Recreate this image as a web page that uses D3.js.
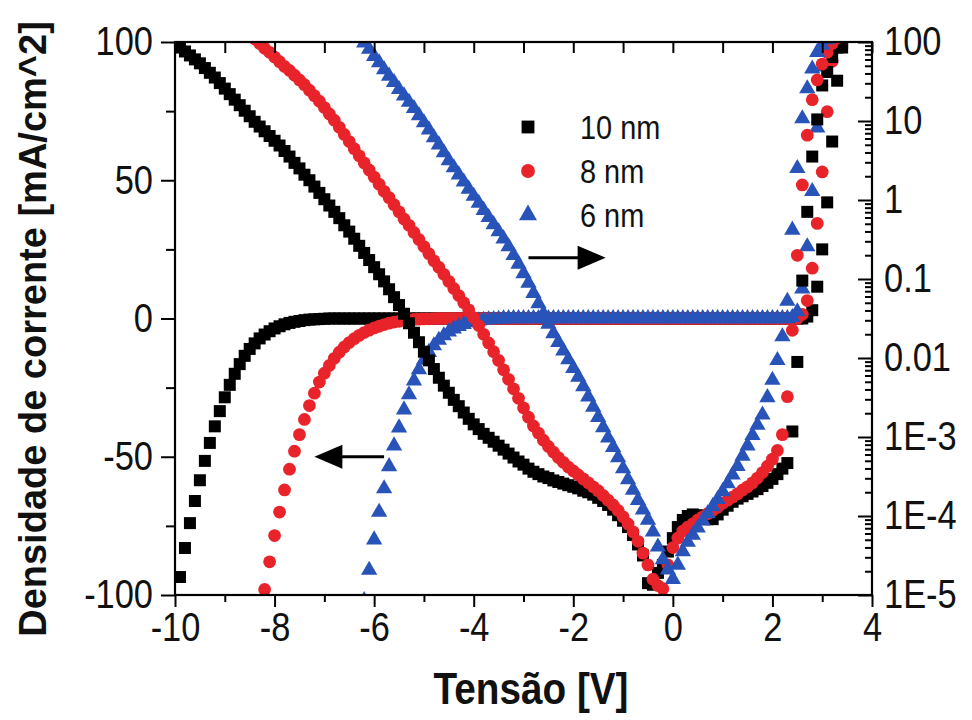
<!DOCTYPE html>
<html><head><meta charset="utf-8">
<script src="https://cdn.jsdelivr.net/npm/d3@7"></script>
<style>body{margin:0;background:#fff}</style>
</head><body>
<svg id="c" width="972" height="720"></svg>
<script>
// ---------------- DATA ----------------
const seriesNames = ["10 nm", "8 nm", "6 nm"];
const voltageStep = 0.1; // sweep step [V]

// Linear J-V (left axis, mA/cm^2), values at successive 0.1 V steps from the start voltage
const lin10Start = -9.9;
const lin10 = [-93.5,-83,-74,-66,-58.5,-51.5,-45,-39,-33.5,-28.5,
  -24,-20,-16.5,-13.5,-11,-9,-7.2,-5.8,-4.6,-3.6,
  -2.8,-2.1,-1.6,-1.2,-0.9,-0.6,-0.4,-0.3,-0.2,-0.1,
  0,0,0,0,0,0,0,0,0,0, 0,0,0,0,0,0,0,0,0,0, 0,0,0,0,0,0,0,0,0,0,
  0,0,0,0,0,0,0,0,0,0, 0,0,0,0,0,0,0,0,0,0, 0,0,0,0,0,0,0,0,0,0,
  0,0,0,0,0,0,0,0,0,0, 0,0,0,0,0,0,0,0,0,0, 0,0,0,0,0,0,0,0,0,0,
  0,0,0,0,0,0,
  0.7,3,11.5,25,42,64,86,98];

const lin8Start = -8.2;
const lin8 = [-98,-88,-78.5,-70,-62,-54.5,-48,-42,-36.5,-31.5,
  -27,-23,-19.8,-17,-14.4,-12.2,-10.3,-8.7,-7.3,-6.1,
  -5.1,-4.2,-3.4,-2.8,-2.2,-1.7,-1.3,-1.0,-0.7,-0.5,
  -0.35,-0.25,-0.15,-0.1,-0.05,
  0,0,0,0,0,0,0,0,0,0, 0,0,0,0,0,0,0,0,0,0, 0,0,0,0,0,0,0,0,0,0,
  0,0,0,0,0,0,0,0,0,0, 0,0,0,0,0,0,0,0,0,0, 0,0,0,0,0,0,0,0,0,0,
  0,0,0,0,0,0,0,0,0,0, 0,0,0,
  1.5,6.5,18.2,34.4,53,74.8,93,100];

const lin6Start = -6.2;
const lin6 = [-102,-91,-80,-70,-61.5,-53.5,-46,-39.5,-33,-27.5,
  -22.5,-18.5,-15,-12.2,-9.8,-7.8,-6.2,-4.8,-3.7,-2.8,
  -2.1,-1.5,-1.1,-0.8,-0.6,-0.4,-0.3,-0.2,-0.1,
  0,0,0,0,0,0,0,0,0,0, 0,0,0,0,0,0,0,0,0,0, 0,0,0,0,0,0,0,0,0,0,
  0,0,0,0,0,0,0,0,0,0, 0,0,0,0,0,0,0,0,0,0, 0,0,0,0,0,0,0,
  0.4,2.5,10.7,26,46,69,91];

// |J| on the log axis (right), stored as log10(|J| / mA cm^-2), 0.1 V steps
const log10Start = -10.0;
const logJ10 = [1.98,1.93,1.88,1.83,1.78,1.73,1.67,1.61,1.55,1.48,
  1.41,1.34,1.27,1.20,1.13,1.06,0.99,0.93,0.87,0.81,
  0.75,0.69,0.62,0.55,0.47,0.40,0.32,0.25,0.17,0.09,
  0.01,-0.07,-0.15,-0.23,-0.32,-0.40,-0.49,-0.58,-0.67,-0.76,
  -0.85,-0.94,-1.03,-1.13,-1.23,-1.33,-1.44,-1.56,-1.68,-1.80,
  -1.92,-2.03,-2.14,-2.25,-2.35,-2.44,-2.53,-2.61,-2.69,-2.77,
  -2.84,-2.90,-2.96,-3.01,-3.06,-3.11,-3.16,-3.21,-3.26,-3.31,
  -3.35,-3.40,-3.44,-3.47,-3.50,-3.52,-3.55,-3.57,-3.59,-3.61,
  -3.63,-3.65,-3.68,-3.70,-3.73,-3.77,-3.81,-3.86,-3.92,-3.99,
  -4.06,-4.14,-4.24,-4.36,-4.50,-4.85,-4.87,-4.72,-4.62,-4.45,
  -4.28,-4.14,-4.05,-4.00,-3.98,-3.99,-4.02,-4.04,-4.04,-3.98,
  -3.92,-3.87,-3.82,-3.78,-3.75,-3.72,-3.69,-3.66,-3.62,-3.58,
  -3.53,-3.47,-3.40,-3.33,-2.93,-2.05,-1.02,-0.15,0.55,1.02,
  1.45,1.62,1.81,1.93,1.99];

const log8Start = -8.4;
const logJ8 = [2.04,1.98,1.92,1.87,1.81,1.75,1.69,1.64,1.58,1.52,
  1.46,1.39,1.32,1.25,1.17,1.09,1.01,0.92,0.83,0.74,
  0.65,0.56,0.47,0.38,0.29,0.20,0.11,0.03,-0.06,-0.15,
  -0.24,-0.32,-0.41,-0.50,-0.59,-0.68,-0.77,-0.85,-0.94,-1.03,
  -1.12,-1.21,-1.30,-1.39,-1.49,-1.59,-1.70,-1.81,-1.92,-2.03,
  -2.15,-2.27,-2.39,-2.51,-2.63,-2.75,-2.86,-2.95,-3.04,-3.12,
  -3.19,-3.26,-3.32,-3.38,-3.43,-3.48,-3.53,-3.58,-3.63,-3.68,
  -3.74,-3.80,-3.86,-3.93,-4.01,-4.10,-4.20,-4.32,-4.47,-4.62,
  -4.80,-4.88,-4.92,-4.62,-4.40,-4.28,-4.19,-4.14,-4.10,-4.05,
  -4.01,-3.97,-3.93,-3.89,-3.84,-3.80,-3.76,-3.72,-3.67,-3.63,
  -3.58,-3.52,-3.45,-3.37,-3.28,-3.17,-2.97,-2.49,-1.65,-0.70,
  0.19,0.82,1.27,1.52,1.72,1.87,1.98,2.05];

const log6Start = -6.3;
const logJ6 = [2.08,1.99,1.91,1.82,1.74,1.65,1.57,1.49,1.40,1.32,
  1.24,1.16,1.07,0.98,0.89,0.79,0.70,0.60,0.50,0.41,
  0.32,0.23,0.14,0.05,-0.04,-0.13,-0.22,-0.31,-0.40,-0.49,
  -0.59,-0.70,-0.81,-0.93,-1.05,-1.18,-1.31,-1.44,-1.57,-1.69,
  -1.80,-1.91,-2.02,-2.13,-2.24,-2.36,-2.49,-2.62,-2.75,-2.88,
  -3.01,-3.13,-3.26,-3.40,-3.54,-3.67,-3.80,-3.92,-4.05,-4.20,
  -4.39,-4.55,-4.68,-4.80,-4.62,-4.45,-4.33,-4.24,-4.15,-4.06,
  -3.97,-3.88,-3.79,-3.69,-3.59,-3.48,-3.37,-3.24,-3.11,-2.98,
  -2.85,-2.72,-2.50,-2.28,-2.03,-1.73,-1.28,-0.38,0.40,1.03,
  1.41,1.66,1.87,1.96,2.03];

// Axis ticks
const xTicks = [-10,-8,-6,-4,-2,0,2,4];
const xMinorTicks = [-9,-7,-5,-3,-1,1,3];
const yLeftTicks = [-100,-50,0,50,100];
const yLeftMinor = [-75,-25,25,75];
const yRightTicks = [1e-5,1e-4,1e-3,0.01,0.1,1,10,100];
const yRightLabels = ["1E-5","1E-4","1E-3","0.01","0.1","1","10","100"];

const xTitle = "Tensão [V]";
const yTitle = "Densidade de corrente [mA/cm^2]";

// ---------------- STYLE ----------------
const colors = ["#000000", "#e8232a", "#2853b8"];
const FONT = "'Liberation Sans', Arial, sans-serif";

const svg = d3.select("#c");
const L = 175, R = 872, T = 42, B = 595;

const x = d3.scaleLinear().domain([-10, 4]).range([L, R]);
const yL = d3.scaleLinear().domain([-100, 100]).range([B, T]);
const yR = d3.scaleLog().domain([1e-5, 100]).range([B, T]);

function toPoints(start, vals, isLog) {
  const s = Math.round(start / voltageStep);
  return vals.map((v, i) => ({ v: (s + i) * voltageStep, j: isLog ? Math.pow(10, v) : v }));
}

const symbols = [d3.symbolSquare, d3.symbolCircle, d3.symbolTriangle];
const symSizes = [144, 128, 115];

svg.append("defs").append("clipPath").attr("id", "plot")
  .append("rect").attr("x", L).attr("y", T).attr("width", R - L).attr("height", B - T);

const gData = svg.append("g").attr("clip-path", "url(#plot)");

const linSets = [[lin10Start, lin10], [lin8Start, lin8], [lin6Start, lin6]];
const logSets = [[log10Start, logJ10], [log8Start, logJ8], [log6Start, logJ6]];

function drawSeries(pts, k, yScale) {
  gData.append("g").selectAll("path").data(pts).join("path")
    .attr("transform", d => `translate(${x(d.v)},${yScale(d.j)})`)
    .attr("d", d3.symbol().type(symbols[k]).size(symSizes[k]))
    .attr("fill", colors[k]);
}
linSets.forEach(([s, v], k) => drawSeries(toPoints(s, v, false), k, yL));
logSets.forEach(([s, v], k) => drawSeries(toPoints(s, v, true), k, yR));

// ---------------- AXES ----------------
const fmt = d => String(d);
function styleAxis(g) {
  g.select(".domain").remove();
  g.selectAll("line").attr("stroke", "#000").attr("stroke-width", 2);
  g.selectAll("text").attr("font-family", FONT).attr("font-size", 40).attr("fill", "#111")
    .attr("class", "tk");
}
// bottom
svg.append("g").attr("transform", `translate(0,${B})`)
  .call(d3.axisBottom(x).tickValues(xTicks).tickFormat(fmt).tickSize(12).tickPadding(6))
  .call(styleAxis);
svg.append("g").attr("transform", `translate(0,${B})`)
  .call(d3.axisBottom(x).tickValues(xMinorTicks).tickFormat("").tickSize(7))
  .call(styleAxis);
// top (inward)
svg.append("g").attr("transform", `translate(0,${T})`)
  .call(d3.axisTop(x).tickValues(xTicks.concat(xMinorTicks)).tickFormat("").tickSize(-11))
  .call(styleAxis);
// left
svg.append("g").attr("transform", `translate(${L},0)`)
  .call(d3.axisLeft(yL).tickValues(yLeftTicks).tickFormat(fmt).tickSize(14).tickPadding(8))
  .call(styleAxis);
svg.append("g").attr("transform", `translate(${L},0)`)
  .call(d3.axisLeft(yL).tickValues(yLeftMinor).tickFormat("").tickSize(9))
  .call(styleAxis);
// right (log, inward)
svg.append("g").attr("transform", `translate(${R},0)`)
  .call(d3.axisRight(yR).tickValues(yRightTicks).tickFormat((d, i) => yRightLabels[i]).tickSize(-14).tickPadding(12))
  .call(styleAxis);
const minorLog = yR.ticks().filter(t => !yRightTicks.some(m => Math.abs(m - t) / m < 1e-6));
svg.append("g").attr("transform", `translate(${R},0)`)
  .call(d3.axisRight(yR).tickValues(minorLog).tickFormat("").tickSize(-7))
  .call(styleAxis);

// frame
svg.append("rect").attr("x", L).attr("y", T).attr("width", R - L).attr("height", B - T)
  .attr("fill", "none").attr("stroke", "#000").attr("stroke-width", 2.2);

// titles
svg.append("text").attr("x", 531).attr("y", 704).attr("text-anchor", "middle")
  .attr("font-family", FONT).attr("font-weight", "bold").attr("font-size", 45).attr("fill", "#111")
  .attr("class", "ttl").text(xTitle);
svg.append("text").attr("transform", `translate(46,329) rotate(-90)`).attr("text-anchor", "middle")
  .attr("font-family", FONT).attr("font-weight", "bold").attr("font-size", 38).attr("fill", "#111")
  .text(yTitle);

// legend
const legSizes = [165, 150, 140];
const leg = svg.append("g");
seriesNames.forEach((n, k) => {
  const yy = 127 + k * 44;
  leg.append("path").attr("transform", `translate(528,${yy})`)
    .attr("d", d3.symbol().type(symbols[k]).size(legSizes[k])).attr("fill", colors[k]);
  leg.append("text").attr("x", 580).attr("y", yy).attr("dy", "0.35em")
    .attr("font-family", FONT).attr("font-size", 34).attr("fill", "#111").attr("class", "lg").text(n);
});

// arrows (annotation, in data coordinates)
function arrow(x0, x1, yPix) {
  const dir = Math.sign(x1 - x0);
  const xe = x(x1), xs = x(x0);
  svg.append("line").attr("x1", xs).attr("y1", yPix).attr("x2", xe - dir * 20).attr("y2", yPix)
    .attr("stroke", "#000").attr("stroke-width", 3);
  svg.append("path").attr("d", `M${xe},${yPix} L${xe - dir * 28},${yPix - 12} L${xe - dir * 28},${yPix + 12} Z`)
    .attr("fill", "#000");
}
arrow(-5.8, -7.2, yL(-50));
arrow(-2.9, -1.35, yL(22));

// condense text (figure fonts are narrow)
function squeeze(sel, f) {
  sel.each(function () {
    const len = this.getComputedTextLength();
    if (len > 0) {
      this.setAttribute("textLength", len * f);
      this.setAttribute("lengthAdjust", "spacingAndGlyphs");
    }
  });
}
squeeze(svg.selectAll("text.tk"), 0.86);
squeeze(svg.selectAll("text.lg"), 0.85);
squeeze(svg.selectAll("text.ttl"), 0.86);
</script>
</body></html>
